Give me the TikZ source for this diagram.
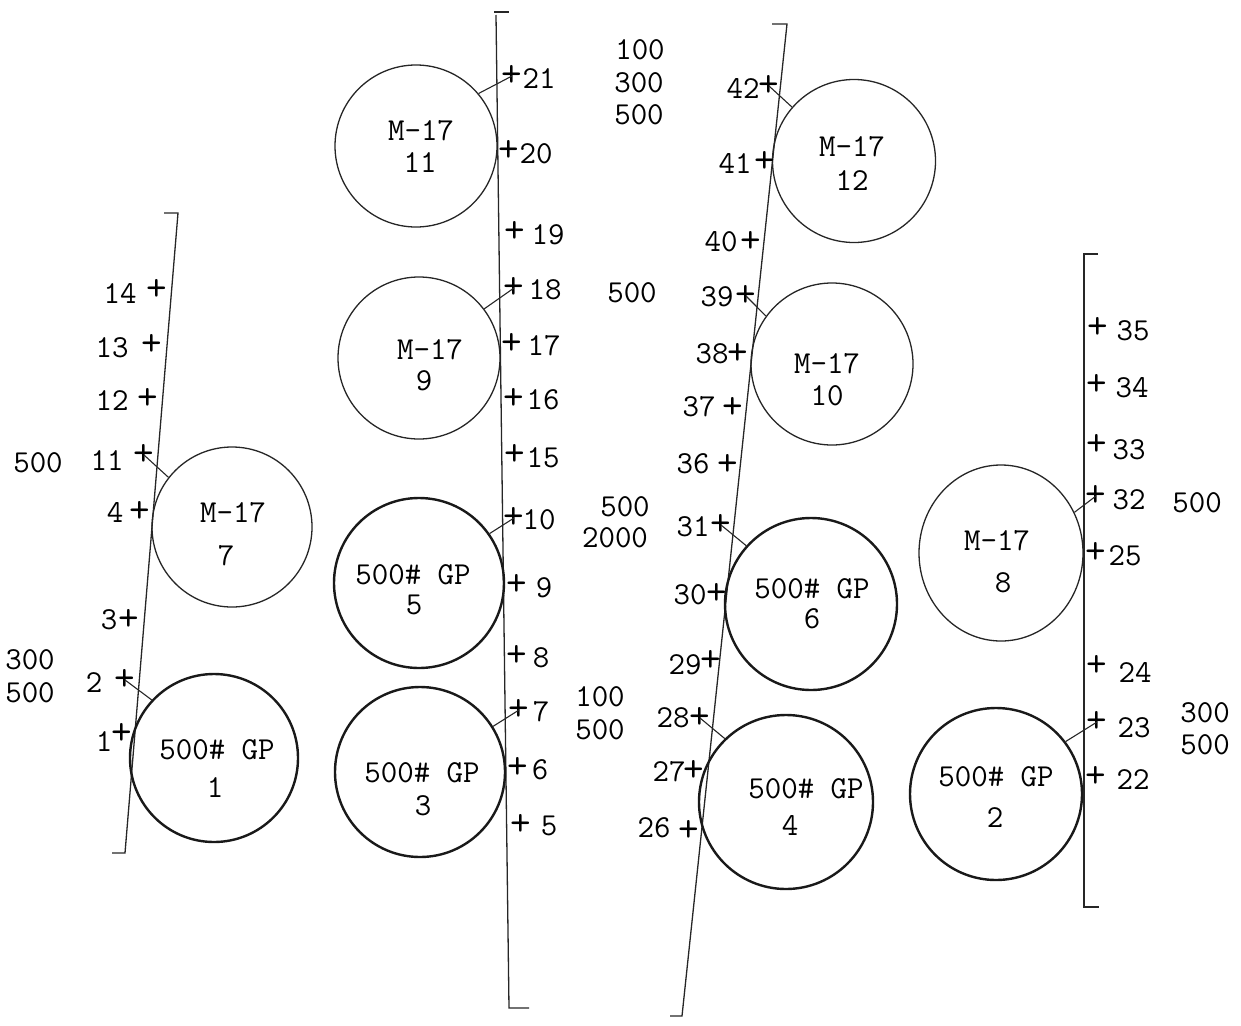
\documentclass[tikz,border=0pt]{standalone}
\usepackage{fontspec}
\usetikzlibrary{shapes.geometric}
\begin{document}
\begin{tikzpicture}[x=1pt,y=-1pt,
  txt/.style={font=\ttfamily\fontsize{32}{34}\selectfont, inner sep=0pt, anchor=center},
  pm/.style={font=\ttfamily\fontsize{40}{42}\selectfont, inner sep=0pt, anchor=center},
  num/.style={txt},
  rail/.style={line width=1.3pt, black!85},
  conn/.style={line width=1.1pt, black!85},
  thincirc/.style={circle, draw=black!85, line width=1.3pt, inner sep=0pt},
  thinoval/.style={ellipse, draw=black!85, line width=1.3pt, inner sep=0pt},
  thickcirc/.style={circle, draw=black!90, line width=2.4pt, inner sep=0pt}]
\useasboundingbox (0,0) rectangle (1241,1025);
\newcommand\pmk[3]{\node[pm] (#1) at (#2,#3) {+};}
\newcommand\nlab[4]{\node[num] (#1) at (#2,#3) {#4};}

% ---------- rails ----------
\coordinate (At) at (178,213); \coordinate (Ab) at (125,853);
\coordinate (Atl) at (164,213); \coordinate (Abl) at (112,853);
\draw[rail] (Atl) -- (At) -- (Ab) -- (Abl);
\coordinate (Bt) at (496,15); \coordinate (Bb) at (509,1008);
\coordinate (Btt1) at (494,12); \coordinate (Btt2) at (509,12);
\coordinate (Bbr) at (529,1008);
\draw[rail] (Bt) -- (Bb) -- (Bbr);
\draw[rail] (Btt1) -- (Btt2);
\coordinate (Ct) at (787,24); \coordinate (Cb) at (682,1016);
\coordinate (Ctl) at (772,24); \coordinate (Cbl) at (670,1016);
\draw[rail] (Ctl) -- (Ct) -- (Cb) -- (Cbl);
\coordinate (Dt) at (1084,254); \coordinate (Db) at (1084,907);
\coordinate (Dtr) at (1098,254); \coordinate (Dbr) at (1099,907);
\draw[rail] (Dtr) -- (Dt) -- (Db) -- (Dbr);

% ---------- circles ----------
\node[thincirc, minimum size=160] (c7) at (232,527) {};
\node[thickcirc, minimum size=168] (c1) at (214,758) {};
\node[thincirc, minimum size=162] (c11) at (416,146) {};
\node[thincirc, minimum size=162] (c9) at (419,358) {};
\node[thickcirc, minimum size=170] (c5) at (419,583) {};
\node[thickcirc, minimum size=170] (c3) at (420,772) {};
\node[thincirc, minimum size=163] (c12) at (854,161) {};
\node[thincirc, minimum size=162] (c10) at (832,364) {};
\node[thickcirc, minimum size=172] (c6) at (811,604) {};
\node[thickcirc, minimum size=174] (c4) at (786,802) {};
\node[thinoval, minimum width=164, minimum height=176] (c8) at (1001,553) {};
\node[thickcirc, minimum size=172] (c2) at (996,794) {};

% ---------- circle labels ----------
\node[txt] (t7a) at (233,513) {M-17};   \node[txt] (t7b) at (226,556) {7};
\node[txt] (t1a) at (217,750) {500\# GP}; \node[txt] (t1b) at (215,788) {1};
\node[txt] (t11a) at (421,131) {M-17};  \node[txt] (t11b) at (420,163) {11};
\node[txt] (t9a) at (430,350) {M-17};   \node[txt] (t9b) at (424,381) {9};
\node[txt] (t5a) at (413,575) {500\# GP}; \node[txt] (t5b) at (414,605) {5};
\node[txt] (t3a) at (422,773) {500\# GP}; \node[txt] (t3b) at (423,806) {3};
\node[txt] (t12a) at (852,147) {M-17};  \node[txt] (t12b) at (852,181) {12};
\node[txt] (t10a) at (827,364) {M-17};  \node[txt] (t10b) at (827,396) {10};
\node[txt] (t6a) at (812,589) {500\# GP}; \node[txt] (t6b) at (812,619) {6};
\node[txt] (t4a) at (806,789) {500\# GP}; \node[txt] (t4b) at (790,825) {4};
\node[txt] (t8a) at (997,541) {M-17};   \node[txt] (t8b) at (1003,583) {8};
\node[txt] (t2a) at (996,777) {500\# GP}; \node[txt] (t2b) at (995,818) {2};

% ---------- rail A marks ----------
\pmk{p14}{157}{290} \nlab{n14}{120}{293}{14}
\pmk{p13}{152}{345} \nlab{n13}{112}{348}{13}
\pmk{p12}{148}{399} \nlab{n12}{112}{401}{12}
\pmk{p11}{144}{455} \nlab{n11}{107}{461}{11}
\pmk{p4}{140}{512}  \nlab{n4}{115}{512}{4}
\pmk{p3}{129}{620}  \nlab{n3}{109}{620}{3}
\pmk{p2}{125}{680}  \nlab{n2}{94}{683}{2}
\pmk{p1}{122}{734}  \nlab{n1}{104}{742}{1}
\nlab{a500}{38}{463}{500}
\nlab{a300b}{30}{660}{300}
\nlab{a500b}{30}{693}{500}

% ---------- rail B marks ----------
\pmk{p21}{512}{76}  \nlab{n21}{539}{79}{21}
\pmk{p20}{509}{151} \nlab{n20}{536}{154}{20}
\pmk{p19}{515}{232} \nlab{n19}{548}{235}{19}
\pmk{p18}{514}{288} \nlab{n18}{545}{290}{18}
\pmk{p17}{512}{344} \nlab{n17}{544}{346}{17}
\pmk{p16}{514}{399} \nlab{n16}{543}{400}{16}
\pmk{p15}{515}{455} \nlab{n15}{543}{458}{15}
\pmk{p10}{514}{518} \nlab{n10}{539}{520}{10}
\pmk{p9}{517}{585}  \nlab{n9}{544}{588}{9}
\pmk{p8}{517}{656}  \nlab{n8}{541}{658}{8}
\pmk{p7}{519}{710}  \nlab{n7}{541}{712}{7}
\pmk{p6}{518}{768}  \nlab{n6}{540}{770}{6}
\pmk{p5}{521}{825}  \nlab{n5}{549}{826}{5}
\nlab{b100}{640}{50}{100}
\nlab{b300}{639}{83}{300}
\nlab{b500}{639}{115}{500}
\nlab{b500c}{632}{293}{500}
\nlab{b500d}{625}{507}{500}
\nlab{b2000}{615}{538}{2000}
\nlab{b100e}{600}{697}{100}
\nlab{b500e}{600}{730}{500}

% ---------- rail C marks ----------
\pmk{p42}{769}{86}  \nlab{n42}{743}{88}{42}
\pmk{p41}{765}{162} \nlab{n41}{735}{163}{41}
\pmk{p40}{751}{242} \nlab{n40}{721}{242}{40}
\pmk{p39}{746}{296} \nlab{n39}{717}{297}{39}
\pmk{p38}{738}{354} \nlab{n38}{712}{354}{38}
\pmk{p37}{733}{408} \nlab{n37}{699}{407}{37}
\pmk{p36}{728}{465} \nlab{n36}{693}{464}{36}
\pmk{p31}{721}{525} \nlab{n31}{693}{527}{31}
\pmk{p30}{717}{594} \nlab{n30}{690}{595}{30}
\pmk{p29}{711}{661} \nlab{n29}{685}{665}{29}
\pmk{p28}{700}{718} \nlab{n28}{673}{718}{28}
\pmk{p27}{694}{771} \nlab{n27}{669}{772}{27}
\pmk{p26}{689}{831} \nlab{n26}{654}{828}{26}

% ---------- rail D marks ----------
\pmk{p35}{1098}{328} \nlab{n35}{1133}{331}{35}
\pmk{p34}{1097}{385} \nlab{n34}{1132}{388}{34}
\pmk{p33}{1097}{445} \nlab{n33}{1129}{450}{33}
\pmk{p32}{1096}{496} \nlab{n32}{1129}{500}{32}
\pmk{p25}{1096}{553} \nlab{n25}{1125}{556}{25}
\pmk{p24}{1097}{666} \nlab{n24}{1135}{672}{24}
\pmk{p23}{1097}{722} \nlab{n23}{1134}{728}{23}
\pmk{p22}{1096}{777} \nlab{n22}{1133}{780}{22}
\nlab{d500}{1197}{503}{500}
\nlab{d300}{1205}{713}{300}
\nlab{d500b}{1205}{745}{500}

% ---------- connectors ----------
\draw[conn] (p11.center) -- (c7.142);
\draw[conn] (p2.center) -- (c1.137);
\draw[conn] (p21.center) -- (c11.40);
\draw[conn] (p18.center) -- (c9.37);
\draw[conn] (p10.center) -- (c5.35);
\draw[conn] (p7.center) -- (c3.32);
\draw[conn] (p42.center) -- (c12.139);
\draw[conn] (p39.center) -- (c10.144);
\draw[conn] (p31.center) -- (c6.138);
\draw[conn] (p28.center) -- (c4.134);
\draw[conn] (p32.center) -- (c8.29);
\draw[conn] (p23.center) -- (c2.37);
\end{tikzpicture}
\end{document}
